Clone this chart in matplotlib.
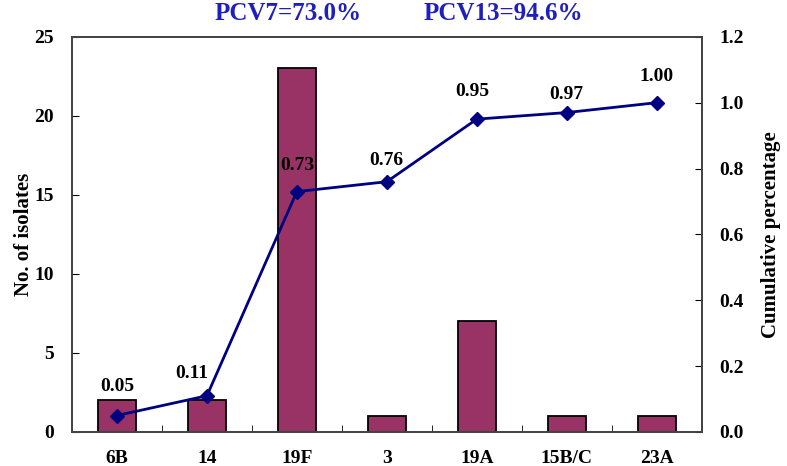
import matplotlib.pyplot as plt
import numpy as np

serotypes = ["6B", "14", "19F", "3", "19A", "15B/C", "23A"]
isolates = [2, 2, 23, 1, 7, 1, 1]
cumulative = [0.05, 0.11, 0.73, 0.76, 0.95, 0.97, 1.00]
cum_labels = ["0.05", "0.11", "0.73", "0.76", "0.95", "0.97", "1.00"]

plt.rcParams['font.family'] = ['Liberation Serif', 'DejaVu Serif']
plt.rcParams['font.weight'] = 'bold'

fig = plt.figure(figsize=(7.87, 4.66), dpi=100)
ax = fig.add_axes([0.0915, 0.073, 0.8, 0.848])
x = np.arange(len(serotypes))

ax.bar(x, isolates, width=0.42, color="#993366", edgecolor="black", linewidth=1.3, zorder=2)
ax.set_xlim(-0.5, len(serotypes) - 0.5)
ax.set_ylim(0, 25)
ax.set_yticks([0, 5, 10, 15, 20, 25])
ax.set_xticks(x)
ax.set_xticklabels(serotypes, fontsize=14, fontweight='bold')
ax.set_xticks(np.arange(len(serotypes) + 1) - 0.5, minor=True)
ax.tick_params(axis='x', which='major', length=0, pad=13)
ax.tick_params(axis='x', which='minor', direction='in', length=5)
ax.tick_params(axis='y', direction='in', length=5, labelsize=14, pad=13)
ax.set_ylabel("No. of isolates", fontsize=15, fontweight='bold', labelpad=0)
for s in ax.spines.values():
    s.set_color("#444444")
    s.set_linewidth(1.3)

ax2 = ax.twinx()
ax2.plot(x, cumulative, color="#000080", linewidth=2, marker='D', markersize=7, zorder=3)
ax2.set_ylim(0, 1.2)
ax2.set_yticks([0.0, 0.2, 0.4, 0.6, 0.8, 1.0, 1.2])
ax2.set_yticklabels([f"{v:.1f}" for v in ax2.get_yticks()])
ax2.tick_params(axis='y', direction='in', length=5, labelsize=14, pad=13)
ax2.set_ylabel("Cumulative percentage", fontsize=15, fontweight='bold', labelpad=12)
for s in ax2.spines.values():
    s.set_color("#444444")
    s.set_linewidth(1.3)

# small nudges so the labels sit where they do in the original
nudge = {"0.05": (0, 21), "0.11": (-11, 16), "0.73": (0, 19), "0.76": (0, 15.5),
         "0.95": (-3, 20), "0.97": (0, 13), "1.00": (0, 19)}
for i, (v, t) in enumerate(zip(cumulative, cum_labels)):
    dx, dy = nudge.get(t, (0, 20))
    ax2.annotate(t, (i, v), xytext=(dx, dy), textcoords='offset points',
                 ha='center', va='center', fontsize=14, fontweight='bold')

fig.text(0.366, 0.972, "PCV7=73.0%", color="#1f1fc0", fontsize=18, fontweight='bold',
         ha='center', va='center')
fig.text(0.639, 0.972, "PCV13=94.6%", color="#1f1fc0", fontsize=18, fontweight='bold',
         ha='center', va='center')

fig.savefig("out.png", dpi=100)
